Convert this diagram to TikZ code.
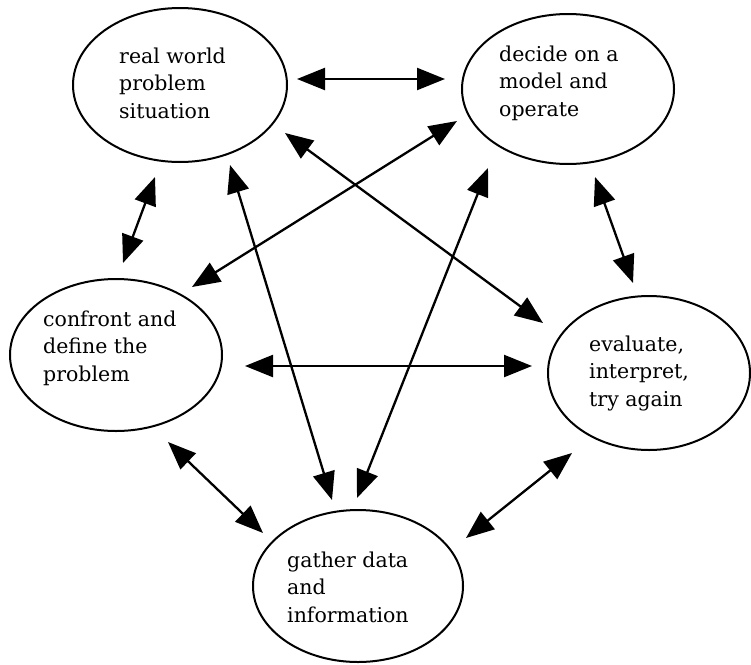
\documentclass[tikz,border=0pt]{standalone}
\usepackage{fontspec}
\setmainfont{DejaVu Serif}
\usetikzlibrary{shapes.geometric,arrows.meta}
\tikzset{
  ell/.style={draw=black, line width=2pt, ellipse, inner sep=0pt},
  lbl/.style={anchor=west, align=left, inner sep=0pt, font=\fontsize{20.5}{27.5}\selectfont},
  dbl/.style={line width=2.3pt, {Triangle[length=28pt,width=22pt]}-{Triangle[length=28pt,width=22pt]}}
}
\begin{document}
\begin{tikzpicture}[x=1pt,y=-1pt]
\useasboundingbox[fill=white] (0,0) rectangle (751,664);
% ellipses
\node[ell, minimum width=214pt, minimum height=154pt] (rw) at (180,85) {};
\node[ell, minimum width=212pt, minimum height=150pt] (dm) at (568,89) {};
\node[ell, minimum width=212pt, minimum height=152pt] (cd) at (116,355) {};
\node[ell, minimum width=202pt, minimum height=154pt] (ev) at (649,373) {};
\node[ell, minimum width=210pt, minimum height=152pt] (gd) at (358,586) {};
% labels
\node[lbl] (rwt) at (119,83) {real world\\problem\\situation};
\node[lbl] (dmt) at (499,83) {decide on a\\model and\\operate};
\node[lbl] (cdt) at (43,348) {confront and\\define the\\problem};
\node[lbl] (evt) at (589,373) {evaluate,\\interpret,\\try again};
\node[lbl] (gdt) at (287,587) {gather data\\and\\information};
% connector ends
\coordinate (rw-e) at (297,79);   \coordinate (dm-w) at (445,79);
\coordinate (rw-s) at (155,177);  \coordinate (cd-n) at (123,263);
\coordinate (rw-se) at (285,133); \coordinate (ev-nw) at (543,323);
\coordinate (rw-ss) at (230,165); \coordinate (gd-nw) at (332,500);
\coordinate (dm-sw) at (457,121); \coordinate (cd-ne) at (192,287);
\coordinate (dm-ss) at (488,168); \coordinate (gd-ne) at (357,498);
\coordinate (dm-s) at (595,177);  \coordinate (ev-n) at (633,283);
\coordinate (cd-e) at (245,366);  \coordinate (ev-w) at (532,366);
\coordinate (cd-se) at (168,442); \coordinate (gd-w) at (263,533);
\coordinate (ev-sw) at (572,453); \coordinate (gd-e) at (466,538);
% connectors
\draw[dbl] (rw-e) -- (dm-w);
\draw[dbl] (rw-s) -- (cd-n);
\draw[dbl] (rw-se) -- (ev-nw);
\draw[dbl] (rw-ss) -- (gd-nw);
\draw[dbl] (dm-sw) -- (cd-ne);
\draw[dbl] (dm-ss) -- (gd-ne);
\draw[dbl] (dm-s) -- (ev-n);
\draw[dbl] (cd-e) -- (ev-w);
\draw[dbl] (cd-se) -- (gd-w);
\draw[dbl] (ev-sw) -- (gd-e);
\end{tikzpicture}
\end{document}
